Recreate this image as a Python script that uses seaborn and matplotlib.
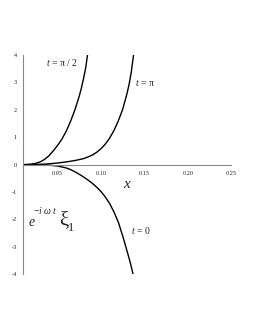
import matplotlib
matplotlib.use("Agg")
import matplotlib.pyplot as plt
import seaborn as sns
import pandas as pd
from matplotlib.ticker import MultipleLocator, FormatStrFormatter

# ---- data ----
x_half_pi = [0.0106, 0.015, 0.020, 0.025, 0.030, 0.035, 0.040, 0.045, 0.050,
             0.055, 0.060, 0.065, 0.070, 0.075, 0.0775, 0.080, 0.0825, 0.0845]
y_half_pi = [0.0, 0.005, 0.02, 0.05, 0.10, 0.19, 0.32, 0.50, 0.70,
             0.93, 1.22, 1.58, 2.0, 2.5, 2.8, 3.15, 3.55, 4.0]

x_pi = [0.0106, 0.02, 0.03, 0.04, 0.05, 0.06, 0.07, 0.08, 0.085, 0.09, 0.095,
        0.10, 0.105, 0.11, 0.115, 0.12, 0.125, 0.13, 0.1325, 0.135, 0.1375]
y_pi = [0.0, 0.003, 0.012, 0.03, 0.06, 0.10, 0.15, 0.22, 0.28, 0.35, 0.45,
        0.58, 0.75, 0.97, 1.25, 1.6, 2.02, 2.6, 2.95, 3.4, 4.0]

x_zero = [0.0106, 0.02, 0.03, 0.04, 0.05, 0.06, 0.065, 0.07, 0.075, 0.08,
          0.085, 0.09, 0.095, 0.10, 0.105, 0.11, 0.115, 0.12, 0.125, 0.13,
          0.1335, 0.137]
y_zero = [0.0, -0.002, -0.008, -0.02, -0.05, -0.12, -0.18, -0.26, -0.35, -0.45,
          -0.56, -0.68, -0.82, -0.98, -1.18, -1.42, -1.73, -2.1, -2.6, -3.15,
          -3.55, -4.0]

x_ticks = [0.05, 0.10, 0.15, 0.20, 0.25]
y_ticks = [-4, -3, -2, -1, 0, 1, 2, 3, 4]

frames = []
for name, xs, ys in [("t=pi/2", x_half_pi, y_half_pi),
                     ("t=pi", x_pi, y_pi),
                     ("t=0", x_zero, y_zero)]:
    frames.append(pd.DataFrame({"x": xs, "y": ys, "curve": name}))
df = pd.concat(frames, ignore_index=True)

sns.set_theme(style="white")
plt.rcParams["font.family"] = ["Liberation Serif", "DejaVu Serif"]
plt.rcParams["mathtext.fontset"] = "custom"
plt.rcParams["mathtext.it"] = "Liberation Serif:italic"
plt.rcParams["mathtext.rm"] = "Liberation Serif"
plt.rcParams["axes.unicode_minus"] = False

W, H = 255, 330
fig = plt.figure(figsize=(W / 100, H / 100), dpi=100)
ax = fig.add_axes([23.3 / W, 1 - 274.3 / H, (231.3 - 23.3) / W, (274.3 - 55) / H])

sns.lineplot(data=df, x="x", y="y", hue="curve", palette=["black"] * 3,
             legend=False, estimator=None, sort=False, linewidth=1.0, ax=ax)

ax.set_xlim(0.0106, 0.25)
ax.set_ylim(-4, 4)
ax.grid(False)
ax.set_facecolor("none")
for s in ["top", "right"]:
    ax.spines[s].set_visible(False)
ax.spines["bottom"].set_position(("data", 0))
for s in ["left", "bottom"]:
    ax.spines[s].set_color("#888888")
    ax.spines[s].set_linewidth(0.8)

ax.set_xticks(x_ticks)
ax.set_yticks(y_ticks)
ax.xaxis.set_major_formatter(FormatStrFormatter("%.2f"))
ax.yaxis.set_major_formatter(FormatStrFormatter("%d"))
ax.xaxis.set_minor_locator(MultipleLocator(0.01))
ax.yaxis.set_minor_locator(MultipleLocator(0.2))
ax.tick_params(axis="both", which="major", labelsize=4.5, length=2.5,
               width=0.6, color="#888888", labelcolor="#222222", pad=2)
ax.tick_params(axis="both", which="minor", length=1.3, width=0.5, color="#888888")
ax.tick_params(axis="x", which="both", direction="inout")
ax.tick_params(axis="x", which="major", pad=3)
ax.tick_params(axis="y", which="both", direction="out")
ax.set_xlabel("")
ax.set_ylabel("")


def ftext(px, py, s, **kw):
    fig.text(px / W, 1 - py / H, s, ha="center", va="center", **kw)


ftext(62, 63, r"$t$ = π / 2", fontsize=7)
ftext(145, 83, r"$t$ = π", fontsize=7)
ftext(141, 231, r"$t$ = 0", fontsize=7)
ftext(127, 185, r"$x$", fontsize=11)
ftext(32, 222, r"$e$", fontsize=10)
ftext(45, 210, r"$-i\;\omega\;t$", fontsize=7)
ftext(64, 221, "ξ", fontsize=15)
ftext(71.5, 228, "1", fontsize=9)

fig.savefig("out.png", dpi=100)
